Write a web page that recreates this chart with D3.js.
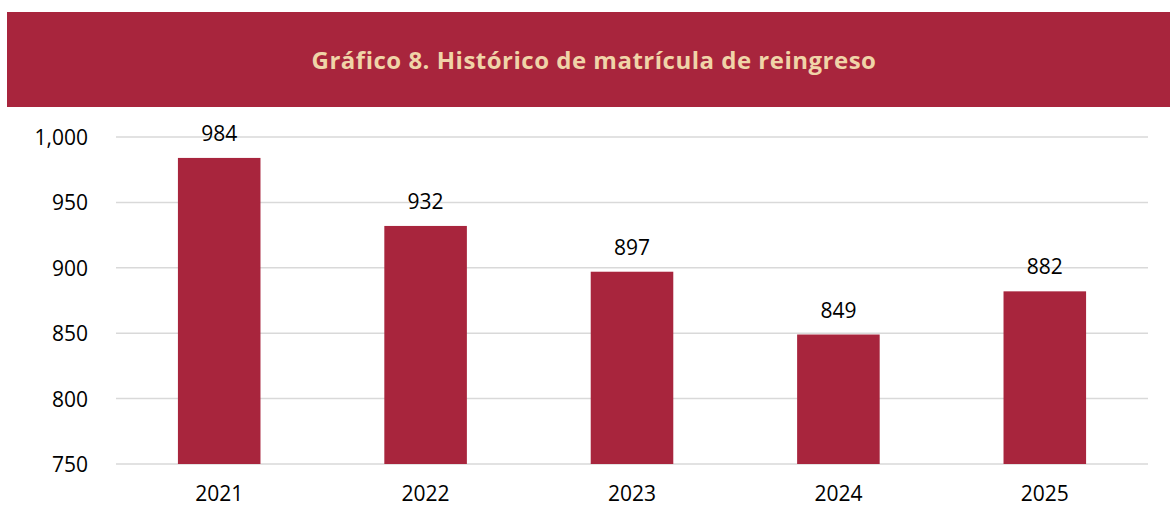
<!DOCTYPE html>
<html>
<head>
<meta charset="UTF-8">
<title>Gráfico 8</title>
<script src="https://d3js.org/d3.v7.min.js"></script>
<style>
html, body { margin: 0; padding: 0; background: #ffffff; }
svg { display: block; }
</style>
</head>
<body>
<script>
// datos del gráfico
var years = ["2021", "2022", "2023", "2024", "2025"];
var enrolment = [984, 932, 897, 849, 882];
var yTicks = [750, 800, 850, 900, 950, 1000];
var chartTitle = "Gráfico 8. Histórico de matrícula de reingreso";

var width = 1170,
    height = 506;

var svg = d3.select("body").append("svg")
    .attr("width", width)
    .attr("height", height);

// banda del título
svg.append("rect")
    .attr("x", 7).attr("y", 12)
    .attr("width", width - 7).attr("height", 95)
    .attr("fill", "#a8253d");

svg.append("text")
    .attr("x", 594).attr("y", 69)
    .attr("text-anchor", "middle")
    .attr("font-family", "'Open Sans', sans-serif")
    .attr("font-weight", "bold")
    .attr("font-size", 24)
    .attr("letter-spacing", 0.5)
    .attr("fill", "#f0d4a8")
    .text(chartTitle);

var x = d3.scaleBand()
    .domain(years)
    .range([116, 1148])
    .paddingInner(0.6)
    .paddingOuter(0.3);

var y = d3.scaleLinear()
    .domain([750, 1000])
    .range([464, 137]);

var grid = svg.append("g");
grid.selectAll("line")
    .data(yTicks)
    .enter().append("line")
    .attr("x1", 116).attr("x2", 1148)
    .attr("y1", function (d) { return y(d); })
    .attr("y2", function (d) { return y(d); })
    .attr("stroke", "#d9d9d9")
    .attr("stroke-width", 1.5);

var yAxis = svg.append("g")
    .attr("transform", "translate(88,0)")
    .call(d3.axisLeft(y).tickValues(yTicks).tickSize(0).tickPadding(0).tickFormat(d3.format(",")));
yAxis.select(".domain").remove();
yAxis.selectAll("text")
    .attr("font-family", "'Open Sans', sans-serif")
    .attr("font-size", 21)
    .attr("fill", "#000")
    .attr("dy", "0.36em");

var xAxis = svg.append("g")
    .attr("transform", "translate(0,464)")
    .call(d3.axisBottom(x).tickSize(0).tickPadding(0));
xAxis.select(".domain").remove();
xAxis.selectAll("text")
    .attr("font-family", "'Open Sans', sans-serif")
    .attr("font-size", 21)
    .attr("fill", "#000")
    .attr("y", 37)
    .attr("dy", 0);

var bars = svg.append("g");
bars.selectAll("rect")
    .data(enrolment)
    .enter().append("rect")
    .attr("x", function (d, i) { return x(years[i]); })
    .attr("y", function (d) { return y(d); })
    .attr("width", x.bandwidth())
    .attr("height", function (d) { return y(750) - y(d); })
    .attr("fill", "#a8253d");

bars.selectAll("text")
    .data(enrolment)
    .enter().append("text")
    .attr("x", function (d, i) { return x(years[i]) + x.bandwidth() / 2; })
    .attr("y", function (d) { return y(d) - 17; })
    .attr("text-anchor", "middle")
    .attr("font-family", "'Open Sans', sans-serif")
    .attr("font-size", 21)
    .attr("fill", "#000")
    .text(function (d) { return d; });
</script>
</body>
</html>
